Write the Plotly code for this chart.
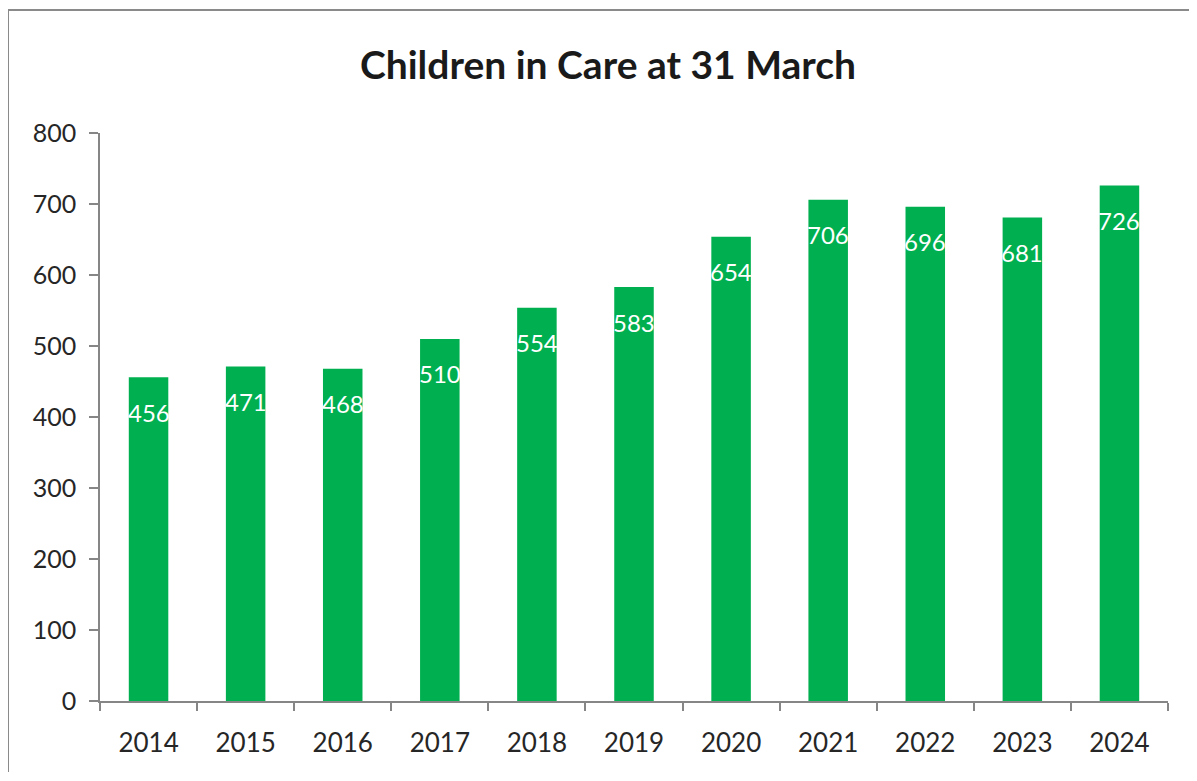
import plotly.graph_objects as go

years = ["2014", "2015", "2016", "2017", "2018", "2019", "2020", "2021", "2022", "2023", "2024"]
children = [456, 471, 468, 510, 554, 583, 654, 706, 696, 681, 726]
title_text = "Children in Care at 31 March"

# page body has an 8px margin, so the figure is drawn 8px in from the top-left;
# keep the figure small enough that the page does not overflow the window
OFF = 8
W, H = 1197 - 2 * OFF, 781 - 2 * OFF
plot_left, plot_right, plot_top, plot_bottom = 100, 1168, 133, 701  # page pixels
L = plot_left - OFF
R = W - (plot_right - OFF)
T = plot_top - OFF
B = H - (plot_bottom - OFF)
pw, ph = W - L - R, H - T - B

def px_to_paper_x(px):
    return (px - OFF - L) / pw

def px_to_paper_y(py):
    return (H - B - (py - OFF)) / ph

fig = go.Figure()
fig.add_trace(go.Bar(
    x=years, y=children,
    marker=dict(color="#00B050", line=dict(width=0)),
    hoverinfo="x+y",
))

for i, v in enumerate(children):
    fig.add_annotation(
        x=i, y=v, text=str(v), showarrow=False,
        yshift=-35, yanchor="middle", xanchor="center",
        font=dict(family="Lato", size=24, color="white"),
    )

# chart-area frame: only the top and left edges are visible in the picture
border = dict(color="#8a8a8a", width=2)
fig.add_shape(type="line", xref="paper", yref="paper",
              x0=px_to_paper_x(8), x1=px_to_paper_x(1196),
              y0=px_to_paper_y(10), y1=px_to_paper_y(10), line=border, layer="below")
fig.add_shape(type="line", xref="paper", yref="paper",
              x0=px_to_paper_x(8), x1=px_to_paper_x(8),
              y0=px_to_paper_y(10), y1=px_to_paper_y(772), line=border, layer="below")

fig.update_layout(
    width=W, height=H,
    margin=dict(l=L, r=R, t=T, b=B, autoexpand=False),
    paper_bgcolor="white", plot_bgcolor="white",
    bargap=0.593,
    showlegend=False,
    title=dict(
        text="<b>" + title_text + "</b>",
        x=(608 - OFF) / W, xanchor="center",
        y=1 - (65 - OFF) / H, yanchor="middle",
        font=dict(family="Lato", size=39, color="#1a1a1a"),
    ),
    font=dict(family="Lato", color="#404040"),
    xaxis=dict(
        type="category",
        range=[-0.5, len(years) - 0.5],
        showline=True, linecolor="#868686", linewidth=1.5,
        ticks="outside", tickson="boundaries", ticklen=8, tickcolor="#868686", tickwidth=1.5,
        tickfont=dict(family="Lato", size=26, color="#262626"),
        ticklabelstandoff=18,
        showgrid=False, zeroline=False,
    ),
    yaxis=dict(
        range=[0, 800], dtick=100,
        showline=True, linecolor="#868686", linewidth=1.5,
        ticks="outside", ticklen=9, tickcolor="#868686", tickwidth=1.5,
        tickfont=dict(family="Lato", size=25, color="#262626"),
        ticklabelstandoff=8,
        showgrid=False, zeroline=False,
    ),
)

fig.write_html("out.html")
